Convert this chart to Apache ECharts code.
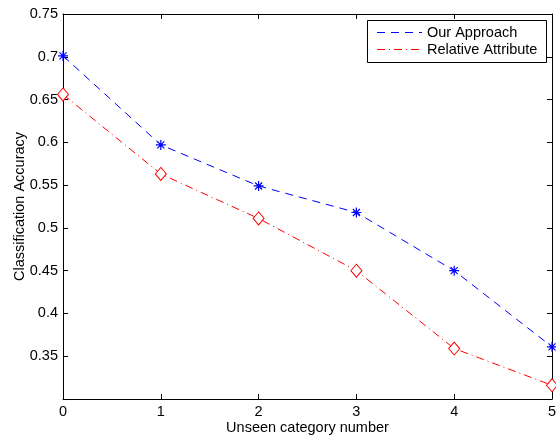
<!DOCTYPE html>
<html>
<head>
<meta charset="utf-8">
<script src="https://cdn.jsdelivr.net/npm/echarts@6/dist/echarts.min.js"></script>
<style>
  html, body { margin: 0; padding: 0; background: #fff; }
  #chart { width: 556px; height: 438px; }
</style>
</head>
<body>
<div id="chart"></div>
<script>
// Number of unseen categories
const categoryNumbers = [0, 1, 2, 3, 4, 5];
// Classification accuracy of each method
const ourApproach = [0.701, 0.597, 0.549, 0.518, 0.450, 0.361];
const relativeAttribute = [0.656, 0.563, 0.511, 0.450, 0.359, 0.316];
const seriesNames = ['Our Approach', 'Relative Attribute'];
// Y-axis tick range
const yTicks = { min: 0.3, max: 0.75, step: 0.05 };

const FONT = 'Liberation Sans, Arial, Helvetica, sans-serif';
const FS = 14.5;
const asterisk = 'path://M0,-5L0,5M-5,0L5,0M-3.5,-3.5L3.5,3.5M-3.5,3.5L3.5,-3.5';

const pairs = arr => categoryNumbers.map((x, i) => [x, arr[i]]);

const chart = echarts.init(document.getElementById('chart'), null, { renderer: 'canvas' });

const axisCommon = {
  axisLine: { show: true, onZero: false, lineStyle: { color: '#000', width: 1 } },
  axisTick: { show: true, inside: true, length: 5, lineStyle: { color: '#000', width: 1 } },
  splitLine: { show: false }
};

// Legend box
const lg = { x: 367, y: 20, w: 179, h: 42 };
const legendRows = [
  { y: 32, color: '#0000ff', dash: [8, 6] },
  { y: 49, color: '#ff0000', dash: [8, 4, 1, 4] }
];
const legendGraphics = [{
  type: 'rect', left: lg.x, top: lg.y, z: 100,
  shape: { width: lg.w, height: lg.h },
  style: { fill: '#fff', stroke: '#000', lineWidth: 1 }
}];
legendRows.forEach((r, i) => {
  legendGraphics.push({
    type: 'line', z: 101,
    shape: { x1: 377, y1: r.y + 0.5, x2: 422, y2: r.y + 0.5 },
    style: { stroke: r.color, lineWidth: 1, lineDash: r.dash }
  });
  legendGraphics.push({
    type: 'text', z: 101, x: 427, y: r.y + 0.5,
    style: { text: seriesNames[i], fill: '#000', font: FS + 'px ' + FONT, textVerticalAlign: 'middle' }
  });
});

chart.setOption({
  animation: false,
  backgroundColor: '#fff',
  grid: { left: 63, right: 4, top: 14, bottom: 39, containLabel: false, outerBoundsMode: 'none' },
  xAxis: [
    Object.assign({}, axisCommon, {
      type: 'value', min: 0, max: 5, interval: 1,
      name: 'Unseen category number', nameLocation: 'middle', nameGap: 21, nameMoveOverlap: false,
      nameTextStyle: { color: '#000', fontFamily: FONT, fontSize: FS },
      axisLabel: { color: '#000', fontFamily: FONT, fontSize: FS, margin: 5 }
    }),
    Object.assign({}, axisCommon, {
      type: 'value', min: 0, max: 5, interval: 1, position: 'top',
      axisLabel: { show: false }
    })
  ],
  yAxis: [
    Object.assign({}, axisCommon, {
      type: 'value', min: yTicks.min, max: yTicks.max, interval: yTicks.step,
      name: 'Classification Accuracy', nameLocation: 'middle', nameGap: 36, nameMoveOverlap: false,
      nameTextStyle: { color: '#000', fontFamily: FONT, fontSize: FS },
      axisLabel: {
        color: '#000', fontFamily: FONT, fontSize: FS, margin: 5, showMinLabel: false,
        formatter: v => String(+v.toFixed(2))
      }
    }),
    Object.assign({}, axisCommon, {
      type: 'value', min: yTicks.min, max: yTicks.max, interval: yTicks.step, position: 'right',
      axisLabel: { show: false }
    })
  ],
  series: [
    {
      name: seriesNames[0], type: 'line', data: pairs(ourApproach),
      symbol: asterisk, symbolSize: 10, showAllSymbol: true,
      lineStyle: { color: '#0000ff', width: 1, type: [8, 6] },
      itemStyle: { color: 'none', borderColor: '#0000ff', borderWidth: 1.2 },
      z: 3
    },
    {
      name: seriesNames[1], type: 'line', data: pairs(relativeAttribute),
      symbol: 'diamond', symbolSize: [11, 13], showAllSymbol: true,
      lineStyle: { color: '#ff0000', width: 1, type: [8, 4, 1, 4] },
      itemStyle: { color: '#fff', borderColor: '#ff0000', borderWidth: 1 },
      z: 3
    }
  ],
  graphic: legendGraphics
});
</script>
</body>
</html>
